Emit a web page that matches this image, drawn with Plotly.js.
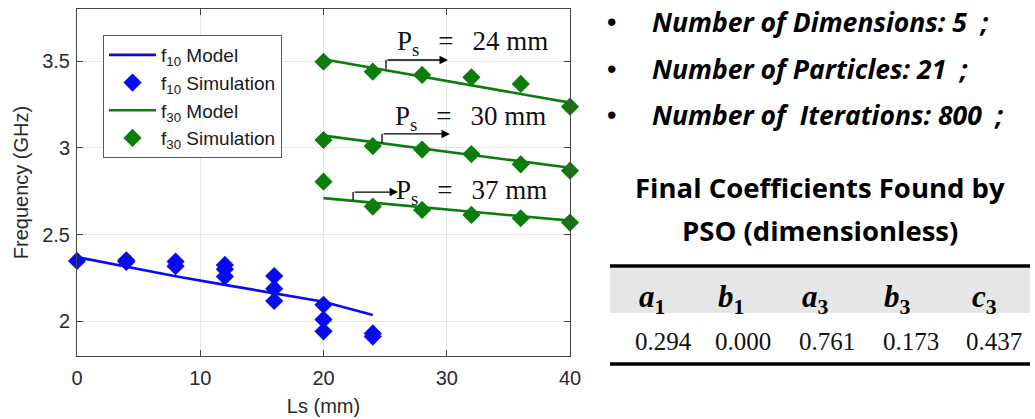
<!DOCTYPE html>
<html><head><meta charset="utf-8">
<script src="https://cdn.plot.ly/plotly-3.0.1.min.js"></script>
<style>html,body{margin:0;padding:0;background:#fff;}</style>
</head><body>
<div id="chart" style="width:1035px;height:419px;"></div>
<script>
// ---- data ----
const f10SimX = [0, 4, 4, 8, 8, 12, 12, 12, 16, 16, 16, 20, 20, 20, 24, 24];
const f10Sim  = [2.348, 2.352, 2.343, 2.344, 2.318, 2.325, 2.300, 2.258, 2.261, 2.188, 2.117, 2.095, 2.010, 1.942, 1.930, 1.912];
const f10ModelX = [0, 4, 8, 12, 16, 20, 24];
const f10Model  = [2.37, 2.313, 2.26, 2.21, 2.163, 2.113, 2.036];

const f30X = [20, 24, 28, 32, 36, 40];
const f30Sim24   = [3.496, 3.439, 3.420, 3.406, 3.368, 3.237];
const f30Model24 = [3.51, 3.46, 3.41, 3.36, 3.31, 3.26];
const f30Sim30   = [3.045, 3.010, 2.990, 2.964, 2.905, 2.868];
const f30Model30 = [3.07, 3.033, 2.996, 2.959, 2.922, 2.885];
const f30Sim37   = [2.805, 2.661, 2.642, 2.613, 2.594, 2.569];
const f30Model37 = [2.71, 2.684, 2.658, 2.632, 2.606, 2.58];

const xTicks = [0, 10, 20, 30, 40];
const yTicks = [2, 2.5, 3, 3.5];
const yTickText = ['2', '2.5', '3', '3.5'];

const pitchLabels = ['24 mm', '30 mm', '37 mm'];
const bulletLines = ['Number of Dimensions: 5\u00a0\u00a0;', 'Number of Particles: 21\u00a0\u00a0;', 'Number of\u00a0\u00a0Iterations: 800\u00a0\u00a0;'];
const tableTitle = ['Final Coefficients Found by', 'PSO (dimensionless)'];
const coefLetters = ['a', 'b', 'a', 'b', 'c'];
const coefSubs = ['1', '1', '3', '3', '3'];
const coefValues = ['0.294', '0.000', '0.761', '0.173', '0.437'];

// ---- styling ----
const BLUE = '#0a0af0', GREEN = '#0a7d0a';
const AX = '#444444';
const L = 77, R = 570, T = 9, B = 356, W = 1035, H = 419;
const px = x => (x - L) / (R - L);
const py = y => (B - y) / (B - T);

const diamond = (c) => ({symbol: 'diamond', size: 14, color: c});
const traces = [
  {x: f10ModelX, y: f10Model, mode: 'lines', name: 'f<sub>10</sub> Model', line: {color: BLUE, width: 2.6}},
  {x: f10SimX, y: f10Sim, mode: 'markers', name: 'f<sub>10</sub> Simulation', marker: diamond(BLUE)},
  {x: f30X, y: f30Model24, mode: 'lines', name: 'f<sub>30</sub> Model', legendgroup: 'm30', line: {color: GREEN, width: 2.6}},
  {x: f30X, y: f30Sim24, mode: 'markers', name: 'f<sub>30</sub> Simulation', legendgroup: 's30', marker: diamond(GREEN)},
  {x: f30X, y: f30Model30, mode: 'lines', showlegend: false, legendgroup: 'm30', line: {color: GREEN, width: 2.6}},
  {x: f30X, y: f30Sim30, mode: 'markers', showlegend: false, legendgroup: 's30', marker: diamond(GREEN)},
  {x: f30X, y: f30Model37, mode: 'lines', showlegend: false, legendgroup: 'm30', line: {color: GREEN, width: 2.6}},
  {x: f30X, y: f30Sim37, mode: 'markers', showlegend: false, legendgroup: 's30', marker: diamond(GREEN)}
].map(t => Object.assign(t, {cliponaxis: false}));

const serif = 'Liberation Serif, DejaVu Serif, serif';
const sans = 'Liberation Sans, Arial, sans-serif';
const calib = 'Open Sans, Lato, sans-serif';

// pitch labels with elbow arrows
const pitchPos = [
  {tx: 32.1, ty: 3.605, vx: 25.07, y0: 3.455, y1: 3.506, hx: 30.1},
  {tx: 31.9, ty: 3.170, vx: 24.75, y0: 3.028, y1: 3.080, hx: 30.26},
  {tx: 32.0, ty: 2.748, vx: 22.4, y0: 2.699, y1: 2.745, hx: 26.05}
];
const annotations = [];
const shapes = [];
pitchPos.forEach((p, i) => {
  annotations.push({xref: 'x', yref: 'y', x: p.tx, y: p.ty, text: 'P<sub>s</sub>\u2002\u2009=\u2002\u2009' + pitchLabels[i],
    showarrow: false, font: {family: serif, size: 27, color: '#111'}, xanchor: 'center', yanchor: 'middle'});
  shapes.push({type: 'line', xref: 'x', yref: 'y', x0: p.vx, x1: p.vx, y0: p.y0, y1: p.y1, line: {color: '#000', width: 1.3}});
  annotations.push({xref: 'x', yref: 'y', axref: 'x', ayref: 'y', x: p.hx, y: p.y1, ax: p.vx, ay: p.y1, text: '',
    showarrow: true, arrowhead: 2, arrowsize: 1.3, arrowwidth: 1.3, arrowcolor: '#000', standoff: 0, startstandoff: 0});
});

// bullet list
const bulletY = [22, 69, 115];
bulletLines.forEach((t, i) => {
  annotations.push({xref: 'paper', yref: 'paper', x: px(611), y: py(bulletY[i]), text: '•', showarrow: false,
    xanchor: 'center', yanchor: 'middle', font: {family: 'Liberation Sans', size: 27, color: '#000'}});
  annotations.push({xref: 'paper', yref: 'paper', x: px(650), y: py(bulletY[i]), text: t, showarrow: false,
    xanchor: 'left', yanchor: 'middle', font: {family: calib, size: 26.5, color: '#000', weight: 'bold', style: 'italic'}});
});

// table title
const titleY = [188, 230];
tableTitle.forEach((t, i) => {
  annotations.push({xref: 'paper', yref: 'paper', x: px(820), y: py(titleY[i]), text: t, showarrow: false,
    xanchor: 'center', yanchor: 'middle', font: {family: calib, size: 27.5, color: '#000', weight: 'bold'}});
});

// table
shapes.push({type: 'rect', xref: 'paper', yref: 'paper', x0: px(610), x1: px(1030), y0: py(268), y1: py(313),
  fillcolor: '#e6e6e6', line: {width: 0}, layer: 'below'});
shapes.push({type: 'line', xref: 'paper', yref: 'paper', x0: px(610), x1: px(1030), y0: py(266), y1: py(266), line: {color: '#000', width: 3.5}});
shapes.push({type: 'line', xref: 'paper', yref: 'paper', x0: px(610), x1: px(1030), y0: py(364), y1: py(364), line: {color: '#000', width: 3.5}});
const headX = [652, 731, 815, 897, 984];
const valX = [663, 743, 827, 911, 994];
coefLetters.forEach((c, i) => {
  annotations.push({xref: 'paper', yref: 'paper', x: px(headX[i]), y: py(299), showarrow: false,
    text: '<b><i>' + c + '</i></b><b><sub>' + coefSubs[i] + '</sub></b>', xanchor: 'center', yanchor: 'middle',
    font: {family: serif, size: 31, color: '#000'}});
  annotations.push({xref: 'paper', yref: 'paper', x: px(valX[i]), y: py(341), showarrow: false,
    text: coefValues[i], xanchor: 'center', yanchor: 'middle', font: {family: serif, size: 25, color: '#111'}});
});

const axisCommon = {
  showline: true, linecolor: AX, linewidth: 1, mirror: 'ticks', ticks: 'inside', ticklen: 6, tickcolor: AX,
  showgrid: true, gridcolor: '#e6e6e6', gridwidth: 1, zeroline: false,
  tickfont: {family: sans, size: 20, color: '#2a2a2a'}
};
const layout = {
  width: W, height: H, paper_bgcolor: '#fff', plot_bgcolor: '#fff',
  margin: {l: L, r: W - R, t: T, b: H - B, autoexpand: false},
  showlegend: true,
  legend: {x: px(103), y: py(35), xanchor: 'left', yanchor: 'top', bgcolor: '#fff', bordercolor: '#5a5a5a', borderwidth: 1,
    font: {family: sans, size: 19, color: '#1a1a1a'}, itemwidth: 47, tracegroupgap: 0, traceorder: 'normal'},
  xaxis: Object.assign({}, axisCommon, {range: [0, 40], tickvals: xTicks, ticklabelstandoff: 4,
    title: {text: 'Ls (mm)', font: {family: sans, size: 20, color: '#2a2a2a'}, standoff: 10}}),
  yaxis: Object.assign({}, axisCommon, {range: [1.8, 3.8], tickvals: yTicks, ticktext: yTickText, ticklabelstandoff: 2,
    title: {text: 'Frequency (GHz)', font: {family: sans, size: 20, color: '#2a2a2a'}, standoff: 8}}),
  annotations: annotations,
  shapes: shapes
};
Plotly.newPlot('chart', traces, layout, {displayModeBar: false, staticPlot: true});
</script>
</body></html>
